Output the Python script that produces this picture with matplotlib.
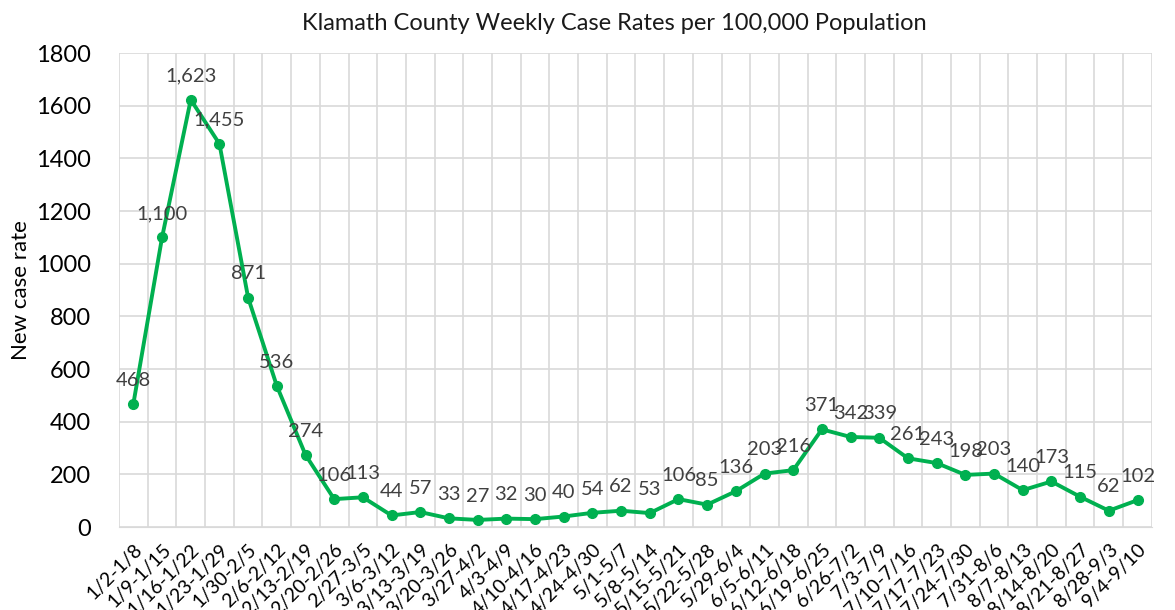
import matplotlib
matplotlib.use('Agg')
import matplotlib.pyplot as plt
import numpy as np

weeks = ['1/2-1/8', '1/9-1/15', '1/16-1/22', '1/23-1/29', '1/30-2/5', '2/6-2/12',
         '2/13-2/19', '2/20-2/26', '2/27-3/5', '3/6-3/12', '3/13-3/19', '3/20-3/26',
         '3/27-4/2', '4/3-4/9', '4/10-4/16', '4/17-4/23', '4/24-4/30', '5/1-5/7',
         '5/8-5/14', '5/15-5/21', '5/22-5/28', '5/29-6/4', '6/5-6/11', '6/12-6/18',
         '6/19-6/25', '6/26-7/2', '7/3-7/9', '7/10-7/16', '7/17-7/23', '7/24-7/30',
         '7/31-8/6', '8/7-8/13', '8/14-8/20', '8/21-8/27', '8/28-9/3', '9/4-9/10']
rates = [468, 1100, 1623, 1455, 871, 536, 274, 106, 113, 44, 57, 33, 27, 32, 30,
         40, 54, 62, 53, 106, 85, 136, 203, 216, 371, 342, 339, 261, 243, 198,
         203, 140, 173, 115, 62, 102]

plt.rcParams['font.family'] = ['Lato', 'DejaVu Sans']

fig = plt.figure(figsize=(11.75, 6.1), dpi=100)
ax = fig.add_axes([0.1013, 0.136, 0.879, 0.777])

x = np.arange(len(weeks))
ax.plot(x, rates, color='#00B050', lw=2.8, marker='o', ms=7, zorder=3)

for xi, v in zip(x, rates):
    ax.annotate(f'{v:,}', (xi, v), xytext=(0, 11), textcoords='offset points',
                ha='center', va='bottom', fontsize=14.5, color='#404040')

ax.set_xlim(-0.5, len(weeks) - 0.5)
ax.set_ylim(0, 1800)
ax.set_yticks(range(0, 1801, 200))
ax.set_xticks(x)
ax.set_xticklabels(weeks, rotation=45, ha='right', rotation_mode='anchor', fontsize=14)
ax.set_xticks(np.arange(-0.5, len(weeks), 1), minor=True)
ax.tick_params(axis='x', which='both', length=0, pad=10)
ax.tick_params(axis='y', length=0, labelsize=17, pad=20)

ax.grid(axis='y', color='#D9D9D9', lw=1.2)
ax.grid(axis='x', which='minor', color='#D9D9D9', lw=1.2)
ax.set_axisbelow(True)
for s in ['top', 'right', 'left']:
    ax.spines[s].set_visible(False)
ax.spines['bottom'].set_color('#D9D9D9')

ax.set_ylabel('New case rate', fontsize=16, labelpad=4)
fig.text(0.523, 0.962, 'Klamath County Weekly Case Rates per 100,000 Population',
         ha='center', va='center', fontsize=17, color='#1a1a1a')

fig.savefig('out.png', dpi=100)
